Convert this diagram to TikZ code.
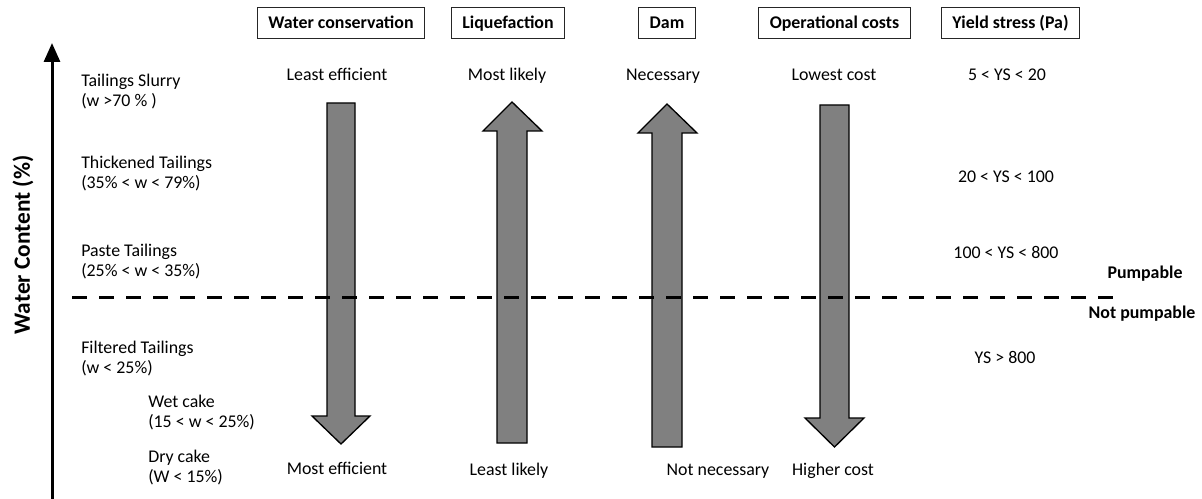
\documentclass[tikz,border=0pt]{standalone}
\usepackage{fontspec}
\setmainfont{Carlito}
\usetikzlibrary{arrows.meta}
\definecolor{arrowgray}{RGB}{128,128,128}
\begin{document}
\begin{tikzpicture}[x=0.75pt,y=-0.75pt,
  txt/.style={font=\fontsize{13.4}{15}\selectfont, inner sep=0pt, text height=8.6pt, text depth=0pt},
  lbl/.style={font=\fontsize{13.4}{15}\selectfont, inner sep=0pt, align=left, anchor=west},
  bold/.style={font=\fontsize{13.4}{15}\selectfont\bfseries, inner sep=0pt, text height=8.6pt, text depth=0pt},
  hdr/.style={draw=black!85, line width=0.75pt, font=\fontsize{13.4}{15}\selectfont\bfseries, minimum height=23.25pt, inner xsep=8.25pt, inner ysep=0pt, text height=8.6pt, text depth=0pt},
  bigarrow/.style={fill=arrowgray, draw=black, line width=1pt, line join=miter},
  axisline/.style={line width=2.25pt, -{Triangle[width=12pt,length=14.25pt]}},
  divider/.style={line width=2.25pt, dash pattern=on 11.25pt off 9pt}
]
\useasboundingbox (0,0) rectangle (1202,499);

% vertical axis
\coordinate (axbot) at (52,499);
\coordinate (axtop) at (52,43);
\draw[axisline] (axbot) -- (axtop);
\node[rotate=90, font=\fontsize{17.5}{19}\selectfont\bfseries, inner sep=0pt] (axlabel) at (23,245) {Water Content (\%)};

% header boxes
\node[hdr] (hwc) at (341,23) {Water conservation};
\node[hdr] (hliq) at (508,23) {Liquefaction};
\node[hdr] (hdam) at (667,23) {Dam};
\node[hdr] (hop) at (834.5,23) {Operational costs};
\node[hdr] (hys) at (1010.5,23) {Yield stress (Pa)};

% left column labels
\node[lbl] (slurry) at (81,92) {Tailings Slurry\\(w >70 \% )};
\node[lbl] (thick) at (81,174) {Thickened Tailings\\(35\% < w < 79\%)};
\node[lbl] (paste) at (81,262) {Paste Tailings\\(25\% < w < 35\%)};
\node[lbl] (filt) at (81,359) {Filtered Tailings\\(w < 25\%)};
\node[lbl] (wet) at (148,413) {Wet cake\\(15 < w < 25\%)};
\node[lbl] (dry) at (148,468) {Dry cake\\(W < 15\%)};

% big arrows
\draw[bigarrow] (327,103) -- (355,103) -- (355,416) -- (370,416) -- (341,444) -- (312,416) -- (327,416) -- cycle;
\draw[bigarrow] (497,443) -- (527,443) -- (527,131) -- (542,131) -- (512,102) -- (483,131) -- (497,131) -- cycle;
\draw[bigarrow] (652,447) -- (682,447) -- (682,133) -- (697,133) -- (667,104) -- (638,133) -- (652,133) -- cycle;
\draw[bigarrow] (820,105) -- (849,105) -- (849,418) -- (864,418) -- (834.5,447) -- (805,418) -- (820,418) -- cycle;

% top labels
\node[txt] (wctop) at (337,75) {Least efficient};
\node[txt] (liqtop) at (507,75) {Most likely};
\node[txt] (damtop) at (663,75) {Necessary};
\node[txt] (optop) at (834,75) {Lowest cost};
\node[txt] (ys1) at (1007,75) {5 < YS < 20};

% bottom labels
\node[txt] (wcbot) at (337,469) {Most efficient};
\node[txt] (liqbot) at (509,470) {Least likely};
\node[txt] (dambot) at (718,470) {Not necessary};
\node[txt] (opbot) at (833,470) {Higher cost};

% yield stress values
\node[txt] (ys2) at (1006,177) {20 < YS < 100};
\node[txt] (ys3) at (1006,253) {100 < YS < 800};
\node[txt] (ys4) at (1005,358) {YS > 800};

% pumpable divider
\coordinate (dl) at (72,297);
\coordinate (dr) at (1117,297);
\draw[divider] (dl) -- (dr);
\node[bold] (pump) at (1145,273) {Pumpable};
\node[bold] (notpump) at (1142,313) {Not pumpable};
\end{tikzpicture}
\end{document}
